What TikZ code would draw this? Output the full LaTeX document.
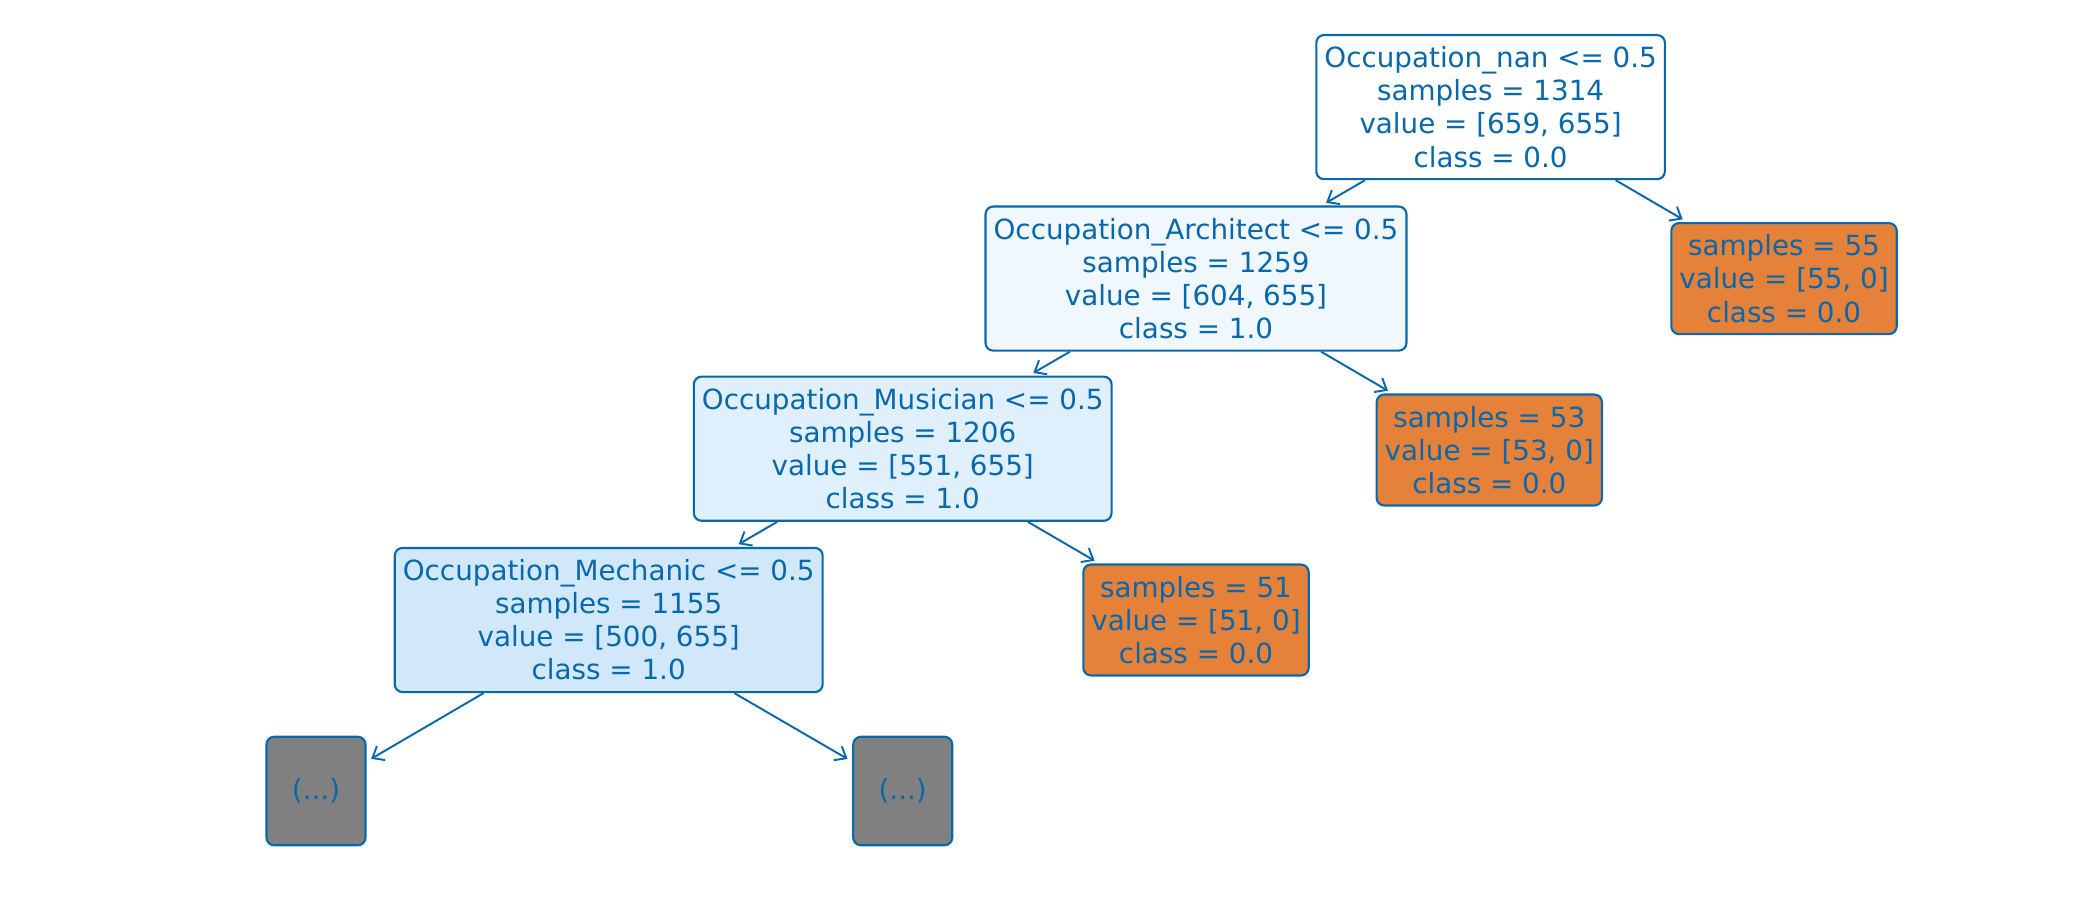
\documentclass[tikz,border=0pt]{standalone}
\usepackage{fontspec}
\setmainfont{DejaVu Sans}
\usepackage{tikz}
\usetikzlibrary{arrows.meta}
\definecolor{treeblue}{RGB}{8,104,172}
\definecolor{leaforange}{RGB}{229,129,57}
\definecolor{rootfill}{RGB}{255,255,255}
\definecolor{archfill}{RGB}{240,247,253}
\definecolor{musfill}{RGB}{223,239,251}
\definecolor{mechfill}{RGB}{208,232,249}
\definecolor{cutgray}{RGB}{128,128,128}

\begin{document}
\begin{tikzpicture}[x=0.01cm, y=-0.01cm, >={Straight Barb[length=2.8pt,width=4.6pt]},
  treenode/.style={draw=treeblue, line width=0.6pt, rounded corners=2.2pt, text=treeblue,
    align=center, inner xsep=2.3pt, font=\fontsize{7.9}{9.4}\selectfont},
  split/.style={treenode, minimum height=1.42cm},
  leaf/.style={treenode, fill=leaforange, minimum width=2.25cm, minimum height=1.07cm},
  cut/.style={treenode, fill=cutgray, minimum width=0.99cm, minimum height=1.085cm},
  branch/.style={->, treeblue, line width=0.55pt, shorten >=1.5pt}]
  \useasboundingbox (0,0) rectangle (2100,900);
  % split nodes
  \node[split, fill=rootfill] (root) at (1490.6,107.1)
    {Occupation\_nan <= 0.5\\samples = 1314\\value = [659, 655]\\class = 0.0};
  \node[split, fill=archfill] (arch) at (1196,278.6)
    {Occupation\_Architect <= 0.5\\samples = 1259\\value = [604, 655]\\class = 1.0};
  \node[split, fill=musfill] (mus) at (902.7,448.7)
    {Occupation\_Musician <= 0.5\\samples = 1206\\value = [551, 655]\\class = 1.0};
  \node[split, fill=mechfill] (mech) at (608.7,620)
    {Occupation\_Mechanic <= 0.5\\samples = 1155\\value = [500, 655]\\class = 1.0};
  % pure leaves
  \node[leaf] (leafnan) at (1784,278.6) {samples = 55\\value = [55, 0]\\class = 0.0};
  \node[leaf] (leafarch) at (1489.3,450) {samples = 53\\value = [53, 0]\\class = 0.0};
  \node[leaf] (leafmus) at (1196,620) {samples = 51\\value = [51, 0]\\class = 0.0};
  % truncated subtrees
  \node[cut] (cutL) at (316,791) {(...)};
  \node[cut] (cutR) at (902.7,791) {(...)};
  % branches
  \draw[branch] (root) -- (arch);
  \draw[branch] (root) -- (leafnan);
  \draw[branch] (arch) -- (mus);
  \draw[branch] (arch) -- (leafarch);
  \draw[branch] (mus) -- (mech);
  \draw[branch] (mus) -- (leafmus);
  \draw[branch] (mech) -- (cutL);
  \draw[branch] (mech) -- (cutR);
\end{tikzpicture}
\end{document}
